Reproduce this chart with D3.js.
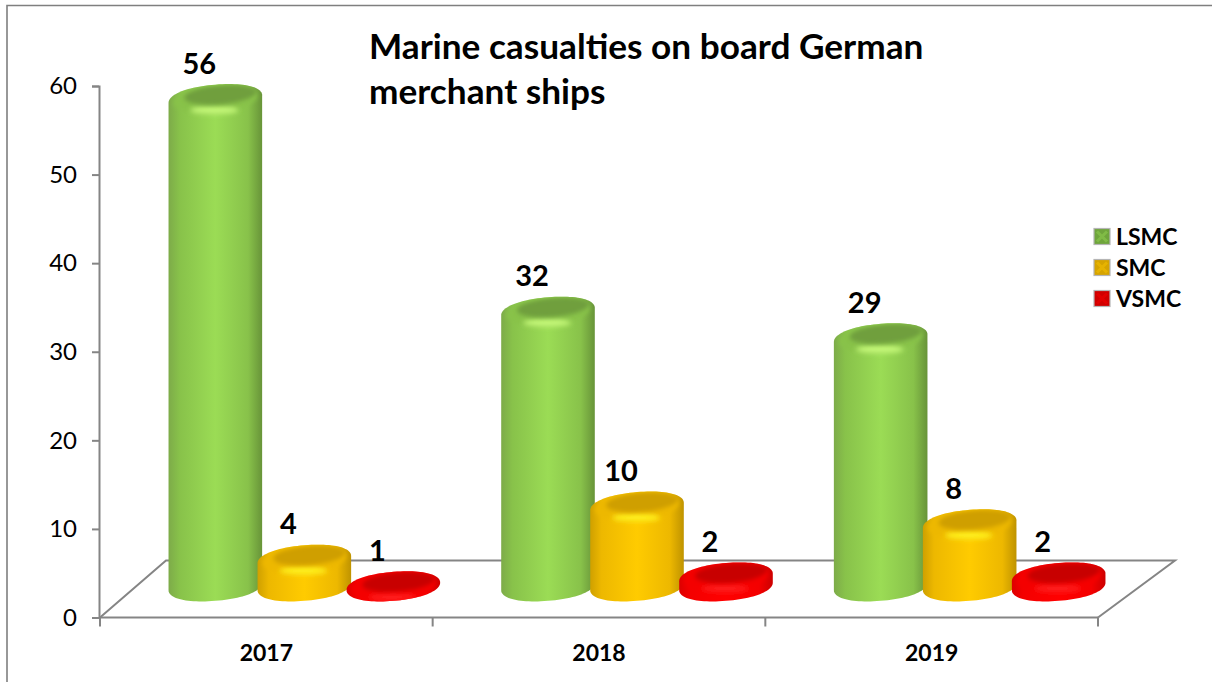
<!DOCTYPE html>
<html>
<head>
<meta charset="utf-8">
<script src="https://cdn.jsdelivr.net/npm/d3@7/dist/d3.min.js"></script>
<style>
  html, body { margin: 0; padding: 0; background: #fff; }
  svg { display: block; font-family: Lato, "Open Sans", sans-serif; }
</style>
</head>
<body>
<svg id="chart" width="1212" height="682"></svg>
<script>
// Marine casualties per year, by severity class
const years = ["2017", "2018", "2019"];
const seriesNames = ["LSMC", "SMC", "VSMC"];
const lsmc = [56, 32, 29];
const smc = [4, 10, 8];
const vsmc = [1, 2, 2];
const yTicks = [0, 10, 20, 30, 40, 50, 60];
const titleLines = ["Marine casualties on board German", "merchant ships"];

const valuesBySeries = [lsmc, smc, vsmc];
const palettes = [
  { edgeL: "#7dab49", edgeR: "#689439", mid: "#9bdc55", rim: "#88c24a", top: "#6f9f3c", glow: "#c4f878", swatch: "#6fa53c" },
  { edgeL: "#cfa000", edgeR: "#bf9300", mid: "#ffcb00", rim: "#edb800", top: "#cf9f00", glow: "#fff01a", swatch: "#d6a400" },
  { edgeL: "#dd0000", edgeR: "#cc0000", mid: "#ff0000", rim: "#f40000", top: "#c80000", glow: "#ff1a1a", swatch: "#d00000" }
];

const svg = d3.select("#chart");
const defs = svg.append("defs");

// Plot geometry
const plot = { left: 100, right: 1098, top: 86, bottom: 617.5 };
const depth = { dx: 66, dy: 57 };
const cyl = { a: 46.8, bTop: 14.5, bBase: 14.5, lean: 0.08, squareness: 2.15 };
const topLift = 22.3;      // the cylinder top sits above the front axis by this much
const barShift = 38;       // sideways shift of the bars onto the middle of the floor

const x = d3.scaleBand().domain(years).range([plot.left, plot.right]);
const y = d3.scaleLinear().domain([0, 60]).range([plot.bottom, plot.top]);
const seriesX = d3.scaleBand().domain(seriesNames)
  .range([-133.5 + barShift, 133.5 + barShift]);

const soft = defs.append("filter").attr("id", "soft")
  .attr("x", "-30%").attr("y", "-60%").attr("width", "160%").attr("height", "220%");
soft.append("feGaussianBlur").attr("stdDeviation", 2.2);
const softer = defs.append("filter").attr("id", "softer")
  .attr("x", "-50%").attr("y", "-120%").attr("width", "200%").attr("height", "340%");
softer.append("feGaussianBlur").attr("stdDeviation", 2.6);

palettes.forEach((p, i) => {
  const g = defs.append("linearGradient").attr("id", "body" + i);
  [[0, p.edgeL], [0.12, p.rim], [0.5, p.mid], [0.85, p.rim], [1, p.edgeR]].forEach(([o, c]) =>
    g.append("stop").attr("offset", o).attr("stop-color", c));
});

// Page frame
svg.append("path").attr("d", "M7,682V5.5H1212").attr("fill", "none")
  .attr("stroke", "#7f7f7f").attr("stroke-width", 1.6);

// Title
const title = svg.append("text").attr("font-weight", 700).attr("font-size", 35.2).attr("fill", "#000");
titleLines.forEach((t, i) => title.append("tspan").attr("x", 369).attr("y", 59 + i * 45).text(t));

// Floor of the plot
const axisColor = "#858585";
const floor = svg.append("g").attr("fill", "none").attr("stroke", axisColor).attr("stroke-width", 2);
floor.append("path").attr("d",
  `M${plot.left},${plot.bottom}L${plot.left + depth.dx},${plot.bottom - depth.dy}` +
  `H${plot.right + depth.dx + 11}L${plot.right},${plot.bottom}`);

// Value axis
const yAxis = svg.append("g").attr("transform", `translate(${plot.left - 1},0)`)
  .call(d3.axisLeft(y).tickValues(yTicks).tickSize(7).tickSizeOuter(7).tickPadding(15));
yAxis.selectAll("path,line").attr("stroke", axisColor).attr("stroke-width", 2);
yAxis.selectAll("text").attr("font-size", 24).attr("font-family", "Lato").attr("fill", "#000");

// Category axis: ticks on the band edges, labels in the band centres
const xAxis = svg.append("g").attr("transform", `translate(0,${plot.bottom})`)
  .call(d3.axisBottom(x).tickSize(0).tickPadding(27));
xAxis.select("path").attr("stroke", axisColor).attr("stroke-width", 2).attr("d", `M${plot.left},0H${plot.right}`);
xAxis.selectAll("text").attr("font-size", 23).attr("font-weight", 700)
  .attr("font-family", "Lato").attr("fill", "#000");
const edges = years.map(d => x(d)).concat(plot.right);
xAxis.selectAll("line.edge").data(edges).join("line").attr("class", "edge")
  .attr("x1", d => d).attr("x2", d => d).attr("y1", 0).attr("y2", 9)
  .attr("stroke", axisColor).attr("stroke-width", 2);

// Outline of a sheared, slightly squared ellipse between two angles (degrees);
// shearing keeps the sides tangent to the vertical walls of the cylinder
function rimPoints(cy, b, from, to) {
  const pts = [];
  const n = 48;
  for (let i = 0; i <= n; i++) {
    const ang = (from + (to - from) * i / n) * Math.PI / 180;
    const cs = Math.cos(ang), sn = Math.sin(ang);
    const ex = cyl.a * Math.sign(cs) * Math.pow(Math.abs(cs), 2 / cyl.squareness);
    const ey = b * Math.sign(sn) * Math.pow(Math.abs(sn), 2 / cyl.squareness);
    pts.push([ex, cy - ex * cyl.lean + ey]);
  }
  return pts;
}
const outlinePath = d3.line();

const barTop = v => y(v) - topLift;
const barBase = barTop(1);
const skew = `matrix(1,${-cyl.lean},0,1,0,0)`;

const bars = [];
years.forEach((yr, i) => seriesNames.forEach((name, k) =>
  bars.push({ yr, name, k, v: valuesBySeries[k][i], cx: x(yr) + x.bandwidth() / 2 + seriesX(name) + seriesX.bandwidth() / 2 })));

// Cylinders, drawn left to right so each one overlaps its left neighbour
bars.forEach((d, n) => {
  const p = palettes[d.k];
  const t = barTop(d.v);
  const g = svg.append("g").attr("transform", `translate(${d.cx},0)`);
  const outline = outlinePath(rimPoints(barBase, cyl.bBase, 180, 0).concat(rimPoints(t, cyl.bTop, 0, -180))) + "Z";
  const clipId = "bar-clip-" + n;
  defs.append("clipPath").attr("id", clipId).append("path").attr("d", outline);

  g.append("path").attr("d", outline).attr("fill", `url(#body${d.k})`);

  const inside = g.append("g").attr("clip-path", `url(#${clipId})`);
  // rim of the top face
  inside.append("ellipse").attr("cx", 0).attr("cy", t).attr("rx", 42).attr("ry", cyl.bTop - 1)
    .attr("transform", skew).attr("fill", p.rim).attr("filter", "url(#soft)");
  // highlight along the front of the rim
  inside.append("ellipse").attr("cx", -1).attr("cy", t + 11).attr("rx", 24).attr("ry", 4)
    .attr("fill", p.glow).attr("filter", "url(#softer)");
  // recessed centre of the top face
  inside.append("ellipse").attr("cx", 5).attr("cy", t - 4).attr("rx", 36).attr("ry", 9.5)
    .attr("transform", skew).attr("fill", p.top).attr("filter", "url(#soft)");
});

// Value labels above the cylinders
svg.append("g").selectAll("text").data(bars).join("text")
  .attr("x", d => d.cx - 16)
  .attr("y", d => barTop(d.v) - 25.5)
  .attr("text-anchor", "middle")
  .attr("font-size", 29).attr("font-weight", 700).attr("fill", "#000")
  .text(d => d.v);

// Legend
const legendRow = d3.scalePoint().domain(seriesNames).range([236.5, 298.5]);
const legend = svg.append("g").selectAll("g").data(seriesNames).join("g")
  .attr("transform", d => `translate(1094,${legendRow(d)})`);
legend.append("rect").attr("x", 0).attr("y", -8).attr("width", 16).attr("height", 16)
  .attr("fill", (d, i) => palettes[i].swatch).attr("stroke", "#b5b5b5").attr("stroke-width", 1.2);
legend.append("path").attr("d", "M3,-5L13,5M13,-5L3,5").attr("stroke", (d, i) => palettes[i].mid)
  .attr("stroke-width", 3).attr("opacity", 0.4);
legend.append("text").attr("x", 22).attr("y", 8).attr("font-size", 23).attr("font-weight", 700)
  .attr("fill", "#000").text(d => d);
</script>
</body>
</html>
